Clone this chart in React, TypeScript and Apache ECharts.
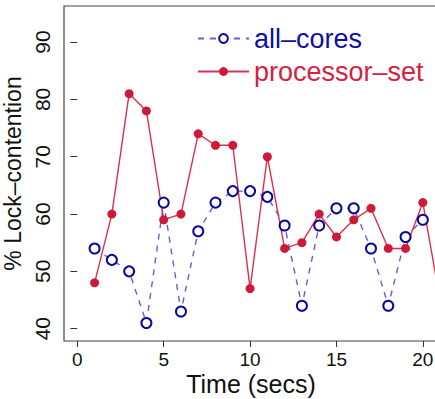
import React, { useEffect, useRef } from "react";
import * as echarts from "echarts";

const times = [1, 2, 3, 4, 5, 6, 7, 8, 9, 10, 11, 12, 13, 14, 15, 16, 17, 18, 19, 20, 21];
const allCores = [54, 52, 50, 41, 62, 43, 57, 62, 64, 64, 63, 58, 44, 58, 61, 61, 54, 44, 56, 59, null];
const processorSet = [48, 60, 81, 78, 59, 60, 74, 72, 72, 47, 70, 54, 55, 60, 56, 59, 61, 54, 54, 62, 45];
const xTicks = [0, 5, 10, 15, 20];
const yTicks = [40, 50, 60, 70, 80, 90];
const xTitle = "Time (secs)";

const FONT = "'Liberation Sans', Arial, Helvetica, sans-serif";

export default function App() {
  const ref = useRef<HTMLDivElement>(null);
  useEffect(() => {
    if (!ref.current) return;
    const chart = echarts.init(ref.current, null, { renderer: "svg" });
    chart.setOption({
      animation: false,
      backgroundColor: "#ffffff",
      textStyle: { fontFamily: FONT },
      grid: {
        left: 64,
        right: -2,
        top: 6,
        bottom: 58,
        show: true,
        borderColor: "#444",
        borderWidth: 1.2,
        containLabel: false,
        outerBoundsMode: "none",
      },
      graphic: [
        {
          type: "text",
          x: 251,
          y: 384,
          style: {
            text: xTitle,
            fontSize: 25,
            fontFamily: FONT,
            fill: "#111",
            textAlign: "center",
            textVerticalAlign: "middle",
          },
        },
      ],
      legend: {
        orient: "vertical",
        left: 192,
        top: 20,
        itemWidth: 51,
        itemHeight: 11,
        itemGap: 6,
        textStyle: { fontSize: 27, fontFamily: FONT, padding: [0, 0, 0, 0] },
        data: [
          { name: "all–cores", textStyle: { color: "#1010a0" } },
          { name: "processor–set", textStyle: { color: "#d4223f" } },
        ],
      },
      xAxis: {
        type: "value",
        min: -0.77,
        max: 20.82,
        splitLine: { show: false },
        axisLine: { show: false },
        axisTick: { show: true, length: 6, customValues: xTicks, lineStyle: { color: "#333" } },
        axisLabel: { customValues: xTicks, fontSize: 19, lineHeight: 19, color: "#111", margin: 9, fontFamily: FONT },
      },
      yAxis: {
        type: "value",
        min: 37.85,
        max: 96.3,
        splitLine: { show: false },
        axisLine: { show: false },
        axisTick: { show: true, length: 7, customValues: yTicks, lineStyle: { color: "#333" } },
        axisLabel: { customValues: yTicks, fontSize: 21, color: "#111", rotate: 90, margin: 11, fontFamily: FONT },
        name: "% Lock–contention",
        nameLocation: "middle",
        nameGap: 31,
        nameTextStyle: { fontSize: 23, color: "#111", fontFamily: FONT },
      },
      series: [
        {
          name: "all–cores",
          type: "line",
          data: times.map((t, i) => [t, allCores[i]]),
          symbol: "emptyCircle",
          symbolSize: 10,
          connectNulls: false,
          lineStyle: { color: "#6a5acd", width: 1.4, type: [6, 6] },
          itemStyle: { color: "#0a0a9a", borderWidth: 2.2 },
          clip: true,
        },
        {
          name: "processor–set",
          type: "line",
          data: times.map((t, i) => [t, processorSet[i]]),
          symbol: "circle",
          symbolSize: 9,
          lineStyle: { color: "#d8314f", width: 1.4 },
          itemStyle: { color: "#cc1a38" },
          clip: true,
        },
      ],
    });
    return () => chart.dispose();
  }, []);
  return (
    <div
      ref={ref}
      style={{ position: "absolute", left: 0, top: 0, width: 435, height: 399 }}
    />
  );
}
